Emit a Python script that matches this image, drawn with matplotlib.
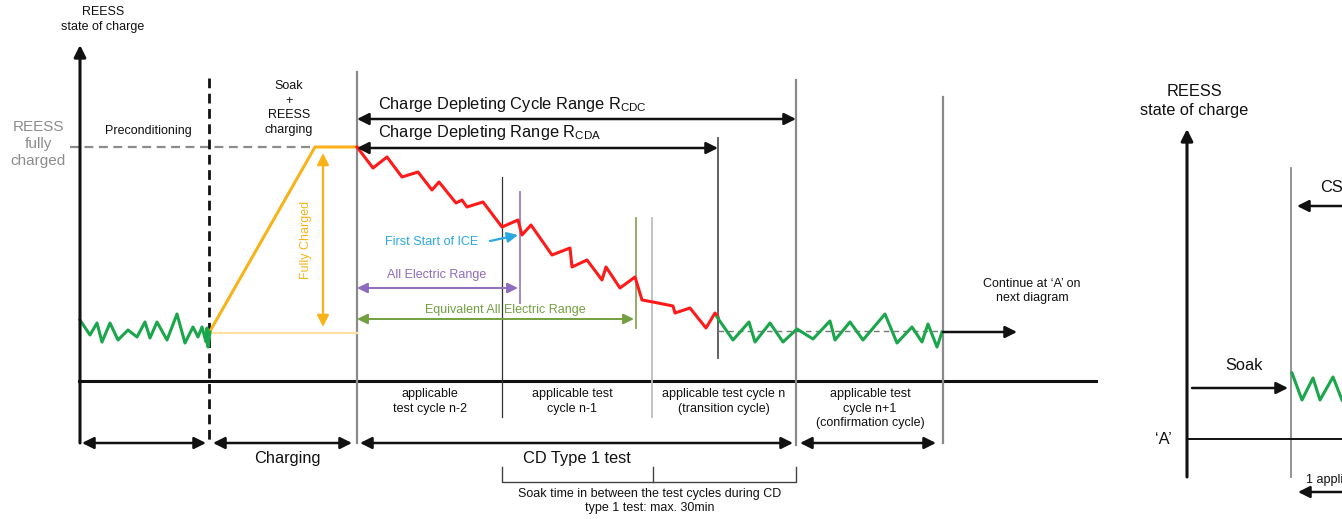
"""REESS state of charge diagram for a charge depleting Type 1 test."""
import matplotlib
matplotlib.use("Agg")
import matplotlib.pyplot as plt

plt.rcParams["font.family"] = ["Liberation Sans", "DejaVu Sans"]
plt.rcParams["mathtext.fontset"] = "custom"
plt.rcParams["mathtext.rm"] = "Liberation Sans"
plt.rcParams["mathtext.it"] = "Liberation Sans"

# diagram coordinates (pixels, y grows downwards)
precond_x = [80, 90, 97, 102, 110, 118, 128, 137, 145, 150, 157, 167, 177, 185,
             193, 198, 202, 206, 207, 208, 210]
precond_y = [320, 335, 323, 342, 323, 340, 330, 337, 322, 338, 322, 340, 314, 343,
             327, 337, 327, 342, 328, 347, 332]

charge_x = [209, 315, 357]
charge_y = [333, 147, 147]

depl_x = [357, 373, 387, 402, 418, 432, 439, 456, 462, 467, 483, 502, 518, 522,
          531, 552, 570, 572, 587, 602, 606, 620, 635, 642, 653, 673, 675, 690,
          706, 715, 718]
depl_y = [147, 168, 157, 177, 172, 190, 182, 203, 200, 207, 202, 227, 220, 235,
          225, 255, 248, 267, 260, 280, 267, 288, 277, 300, 302, 306, 313, 308,
          328, 313, 317]

sust_x = [717, 733, 749, 755, 770, 783, 797, 813, 830, 835, 850, 863, 885, 897,
          912, 922, 928, 937, 942]
sust_y = [317, 340, 322, 342, 323, 342, 329, 339, 321, 340, 322, 340, 314, 343,
          327, 342, 324, 347, 332]

next_x = [1292, 1302, 1313, 1320, 1333, 1342]
next_y = [373, 400, 378, 400, 377, 400]

# vertical markers: x, top, bottom, colour, width
markers = [
    (357, 72, 443, "#8a8a8a", 1.6),
    (796, 80, 445, "#8a8a8a", 1.6),
    (943, 97, 443, "#8a8a8a", 1.6),
    (502, 177, 417, "#333333", 0.9),
    (718, 138, 358, "#555555", 1.3),
    (652, 218, 417, "#bdbdbd", 1.3),
    (636, 218, 328, "#8aa85a", 1.3),
    (520, 192, 303, "#9b7fc4", 1.3),
    (1291, 168, 477, "#8a8a8a", 1.3),
]

cycle_labels = ["applicable\ntest cycle n-2", "applicable test\ncycle n-1",
                "applicable test cycle n\n(transition cycle)",
                "applicable test\ncycle n+1\n(confirmation cycle)"]
cycle_centres = [430, 572, 724, 870]

GREEN = "#1aa64a"
RED = "#ff1a1a"
ORANGE = "#f8b31a"
PURPLE = "#8e6bbf"
OLIVE = "#72a040"
BLUE = "#29a8e0"
INK = "#111111"

SMALL = 9
BIG = 11.8


def arrow(ax, x0, y0, x1, y1, style="<|-|>", color=INK, lw=1.8, hl=0.5, hw=0.25):
    ax.annotate("", xy=(x1, y1), xytext=(x0, y0),
                arrowprops=dict(arrowstyle=f"{style},head_length={hl},head_width={hw}",
                                color=color, lw=lw, shrinkA=0, shrinkB=0,
                                mutation_scale=14))


def main():
    fig = plt.figure(figsize=(13.42, 5.19), dpi=100)
    ax = fig.add_axes([0, 0, 1, 1])
    ax.set_xlim(0, 1342)
    ax.set_ylim(519, 0)
    ax.axis("off")

    # left diagram axes
    arrow(ax, 80, 443, 80, 45, style="-|>", lw=2.2)
    ax.plot([79, 1096], [381, 381], color=INK, lw=2.2)
    ax.text(103, 12, "REESS", ha="center", va="center", fontsize=SMALL, color=INK)
    ax.text(103, 27, "state of charge", ha="center", va="center", fontsize=SMALL, color=INK)
    ax.text(38, 144, "REESS\nfully\ncharged", ha="center", va="center",
            fontsize=11, color="#8c8c8c", linespacing=1.3)
    ax.plot([70, 315], [147, 147], color="#8c8c8c", lw=1.6, ls=(0, (4, 2.5)))
    ax.plot([209, 209], [78, 443], color=INK, lw=2.0, ls=(0, (3.5, 2)))

    ax.text(148, 131, "Preconditioning", ha="center", va="center", fontsize=SMALL, color=INK)
    ax.text(289, 108, "Soak\n+\nREESS\ncharging", ha="center", va="center",
            fontsize=SMALL, color=INK, linespacing=1.3)

    for x, top, bottom, color, lw in markers:
        ax.plot([x, x], [top, bottom], color=color, lw=lw)

    # charging
    ax.plot([209, 357], [333, 333], color="#ffe2a0", lw=1.6)
    ax.plot(charge_x, charge_y, color=ORANGE, lw=2.2, solid_joinstyle="miter")
    arrow(ax, 323, 327, 323, 153, color=ORANGE, lw=1.6, hl=0.5, hw=0.25)
    ax.text(306, 240, "Fully Charged", rotation=90, ha="center", va="center",
            fontsize=SMALL, color=ORANGE)

    # SOC traces
    ax.plot(precond_x, precond_y, color=GREEN, lw=2.2)
    ax.plot(depl_x, depl_y, color=RED, lw=2.2)
    ax.plot([718, 943], [331, 331], color="#777777", lw=1.0, ls=(0, (4, 3)))
    ax.plot(sust_x, sust_y, color=GREEN, lw=2.2)

    # ranges
    arrow(ax, 357, 119, 796, 119)
    ax.text(378, 104, r"Charge Depleting Cycle Range R$_{\mathregular{CDC}}$",
            ha="left", va="center", fontsize=BIG, color=INK)
    arrow(ax, 357, 148, 718, 148)
    ax.text(378, 133, r"Charge Depleting Range R$_{\mathregular{CDA}}$",
            ha="left", va="center", fontsize=BIG, color=INK)
    arrow(ax, 357, 288, 518, 288, color=PURPLE, lw=1.4, hl=0.45, hw=0.22)
    ax.text(437, 275, "All Electric Range", ha="center", va="center",
            fontsize=SMALL, color=PURPLE)
    arrow(ax, 357, 319, 634, 319, color=OLIVE, lw=1.4, hl=0.45, hw=0.22)
    ax.text(505, 310, "Equivalent All Electric Range", ha="center", va="center",
            fontsize=SMALL, color=OLIVE)
    arrow(ax, 490, 241, 518, 235, style="-|>", color=BLUE, lw=1.6, hl=0.45, hw=0.22)
    ax.text(432, 242, "First Start of ICE", ha="center", va="center",
            fontsize=SMALL, color=BLUE)

    for label, cx in zip(cycle_labels, cycle_centres):
        ax.text(cx, 388, label, ha="center", va="top", fontsize=SMALL,
                color=INK, linespacing=1.3)

    # bottom spans
    arrow(ax, 82, 443, 206, 443)
    arrow(ax, 213, 443, 352, 443)
    ax.text(287, 459, "Charging", ha="center", va="center", fontsize=BIG, color=INK)
    arrow(ax, 360, 443, 793, 443)
    ax.text(577, 458, "CD Type 1 test", ha="center", va="center", fontsize=BIG, color=INK)
    arrow(ax, 800, 443, 936, 443)

    ax.plot([502, 502, 796, 796], [467, 482, 482, 467], color="#444444", lw=1.0)
    ax.plot([653, 653], [467, 482], color="#444444", lw=1.0)
    ax.text(650, 501, "Soak time in between the test cycles during CD\ntype 1 test: max. 30min",
            ha="center", va="center", fontsize=SMALL, color=INK, linespacing=1.25)

    arrow(ax, 943, 332, 1017, 332, style="-|>", lw=1.8)
    ax.text(1032, 291, "Continue at \u2018A\u2019 on\nnext diagram", ha="center",
            va="center", fontsize=SMALL, color=INK, linespacing=1.3)

    # right diagram
    arrow(ax, 1187, 477, 1187, 129, style="-|>", lw=2.2)
    ax.text(1194, 92, "REESS", ha="center", va="center", fontsize=BIG, color=INK)
    ax.text(1194, 111, "state of charge", ha="center", va="center", fontsize=BIG, color=INK)
    ax.plot([1187, 1342], [439, 439], color=INK, lw=1.4)
    ax.text(1163, 439, "\u2018A\u2019", ha="center", va="center", fontsize=BIG, color=INK)
    arrow(ax, 1192, 388, 1288, 388, style="-|>", lw=1.8)
    ax.text(1244, 366, "Soak", ha="center", va="center", fontsize=BIG, color=INK)
    arrow(ax, 1350, 206, 1297, 206, style="-|>", lw=1.8)
    ax.text(1320, 187, "CS", ha="left", va="center", fontsize=BIG, color=INK)
    ax.plot(next_x, next_y, color=GREEN, lw=2.2)
    ax.text(1306, 480, "1 applicable test cycle", ha="left", va="center",
            fontsize=SMALL, color=INK)
    arrow(ax, 1350, 492, 1298, 492, style="-|>", lw=1.8)

    fig.savefig("out.png", dpi=100)


if __name__ == "__main__":
    main()
